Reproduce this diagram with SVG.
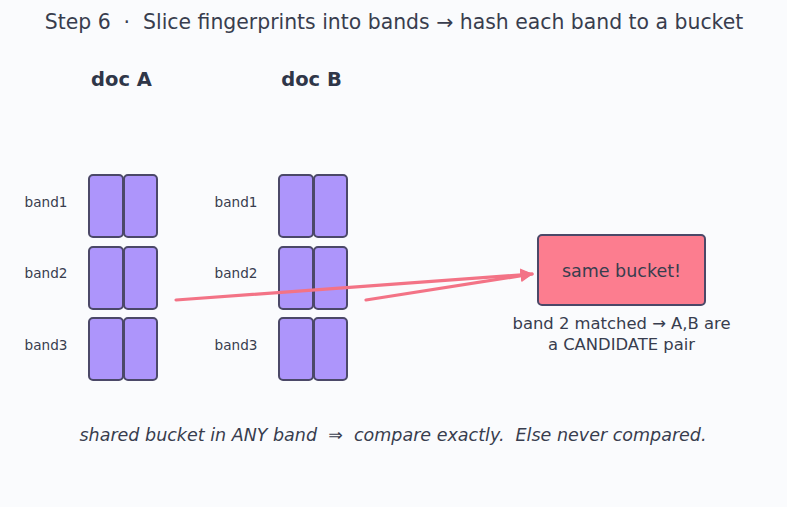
<svg xmlns="http://www.w3.org/2000/svg" width="787" height="507" viewBox="0 0 787 507">
<defs>
<style>
text{font-family:"DejaVu Sans","Liberation Sans",sans-serif;fill:#383d4e;white-space:pre}
.title{font-size:20.4px}
.doc{font-size:19.5px;font-weight:bold;fill:#2f3648}
.band{font-size:13.6px}
.cell{fill:#ad95fb;stroke:#4b4868;stroke-width:2}
.box{fill:#fc7d8f;stroke:#4b4868;stroke-width:2}
.lbl{font-size:17.5px}
.sub{font-size:16.4px}
.foot{font-size:17.5px;font-style:italic}
.edge{stroke:#f37386;stroke-width:3.2;fill:none;stroke-linecap:round}
</style>
<marker id="ah" viewBox="0 0 10 10" refX="9" refY="5" markerWidth="4" markerHeight="4" orient="auto" markerUnits="strokeWidth">
<path d="M0,0 L10,5 L0,10 z" fill="#f37386"/>
</marker>
</defs>
<rect width="787" height="507" fill="#fafbfd"/>
<text class="title" x="394" y="29" text-anchor="middle" xml:space="preserve">Step 6  ·  Slice fingerprints into bands → hash each band to a bucket</text>
<g id="docA">
<text class="doc" x="121.5" y="86" text-anchor="middle">doc A</text>
<text class="band" x="46" y="207" text-anchor="middle">band1</text>
<text class="band" x="46" y="278" text-anchor="middle">band2</text>
<text class="band" x="46" y="350" text-anchor="middle">band3</text>
<rect class="cell" x="89" y="175" width="34" height="62" rx="4"/>
<rect class="cell" x="124" y="175" width="33" height="62" rx="4"/>
<rect class="cell" x="89" y="247" width="34" height="62" rx="4"/>
<rect class="cell" x="124" y="247" width="33" height="62" rx="4"/>
<rect class="cell" x="89" y="318" width="34" height="62" rx="4"/>
<rect class="cell" x="124" y="318" width="33" height="62" rx="4"/>
</g>
<g id="docB">
<text class="doc" x="311.5" y="86" text-anchor="middle">doc B</text>
<text class="band" x="236" y="207" text-anchor="middle">band1</text>
<text class="band" x="236" y="278" text-anchor="middle">band2</text>
<text class="band" x="236" y="350" text-anchor="middle">band3</text>
<rect class="cell" x="279" y="175" width="34" height="62" rx="4"/>
<rect class="cell" x="314" y="175" width="33" height="62" rx="4"/>
<rect class="cell" x="279" y="247" width="34" height="62" rx="4"/>
<rect class="cell" x="314" y="247" width="33" height="62" rx="4"/>
<rect class="cell" x="279" y="318" width="34" height="62" rx="4"/>
<rect class="cell" x="314" y="318" width="33" height="62" rx="4"/>
</g>
<g id="bucket">
<rect class="box" x="538" y="235" width="167" height="70" rx="4"/>
<text class="lbl" x="621.5" y="276.5" text-anchor="middle">same bucket!</text>
<text class="sub" x="621.5" y="329" text-anchor="middle">band 2 matched → A,B are</text>
<text class="sub" x="621.5" y="350" text-anchor="middle">a CANDIDATE pair</text>
</g>
<g id="connectors">
<line class="edge" x1="176" y1="300" x2="532" y2="274" marker-end="url(#ah)"/>
<line class="edge" x1="366" y1="300" x2="532" y2="274" marker-end="url(#ah)"/>
</g>
<text class="foot" x="393" y="441" text-anchor="middle" xml:space="preserve">shared bucket in ANY band  ⇒  compare exactly.  Else never compared.</text>
</svg>
